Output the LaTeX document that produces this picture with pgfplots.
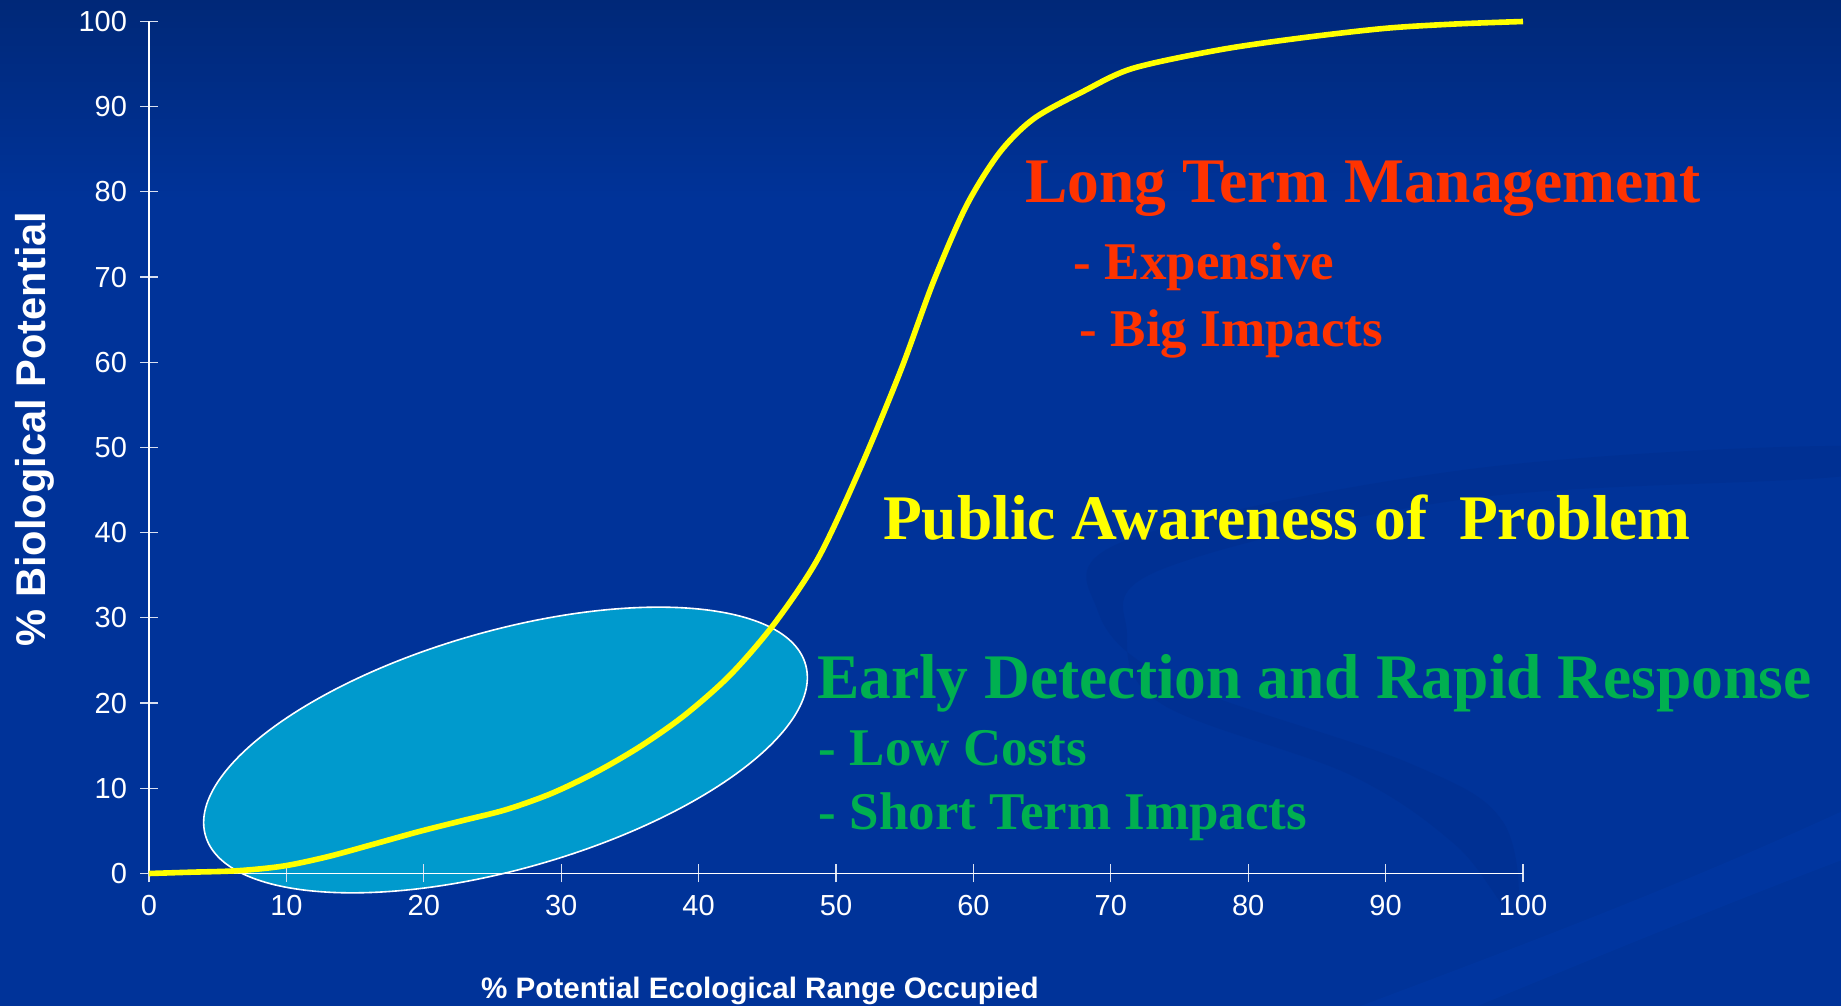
\documentclass[border=0pt]{standalone}
\usepackage{pgfplots}
\pgfplotsset{compat=1.18}
\usepackage{fontspec}
\setmainfont{Liberation Sans}
\newfontfamily\serifb{Liberation Serif}
\definecolor{bgblue}{RGB}{0,51,153}
\definecolor{bgtop}{RGB}{0,40,120}
\definecolor{bgdark}{RGB}{0,44,136}
\definecolor{bglight}{RGB}{0,58,168}
\definecolor{ellfill}{RGB}{0,154,205}
\definecolor{txtred}{RGB}{255,51,0}
\definecolor{txtgreen}{RGB}{0,176,80}
\definecolor{curveyellow}{RGB}{255,255,0}
\begin{document}
\begin{tikzpicture}
% background
\fill[bgblue] (0,0) rectangle (920.5pt,503pt);
\shade[top color=bgtop, bottom color=bgblue] (0,403pt) rectangle (920.5pt,503pt);
% faint decorative swooshes of the slide background
\begin{scope}
\clip (0,0) rectangle (920.5pt,503pt);
\fill[bgdark, opacity=0.35] plot[smooth cycle, tension=0.6] coordinates {
 (925pt,280pt) (733.8pt,268.3pt) (563.5pt,233pt) (548.8pt,197.8pt) (587pt,162.6pt)
 (704.4pt,121.5pt) (751.4pt,92.2pt) (757.2pt,45.2pt)
 (727.9pt,80.4pt) (675pt,115.6pt) (581pt,150.9pt) (563.5pt,186pt) (581pt,218.4pt)
 (733.8pt,253.6pt) (925pt,265.3pt)};
\fill[bglight, opacity=0.4] (925pt,99.2pt) .. controls (840pt,60pt) and (760pt,30pt) .. (675pt,-2pt)
  -- (733.8pt,-2pt) .. controls (800pt,25pt) and (860pt,50pt) .. (925pt,74.5pt) -- cycle;
\end{scope}
% highlighted region (annotation)
\draw[white, line width=0.8pt, fill=ellfill, shift={(252.75pt,128pt)}, rotate=15.9]
  (0,0) ellipse [x radius=156pt, y radius=59.5pt];
\begin{axis}[
  scale only axis,
  width=687pt, height=426pt,
  at={(74.5pt,66.25pt)}, anchor=south west,
  xmin=0, xmax=100, ymin=0, ymax=100,
  axis lines*=left,
  axis line style={white, line width=0.8pt},
  xtick={0,10,...,100}, ytick={0,10,...,100},
  tick align=center,
  major tick length=9pt,
  tick style={white!85!bgblue, line width=0.6pt},
  /pgf/number format/assume math mode=true,
  tick label style={font=\fontsize{14.5}{16}\selectfont, text=white},
  xticklabel style={yshift=-3pt},
  yticklabel style={xshift=-3pt},
  clip=false,
]
\addplot[curveyellow, line width=2.8pt, smooth, tension=0.5] coordinates {
(0,0) (3,0.15) (6.5,0.33) (9.8,0.88) (13,1.97) (16.3,3.42) (19.6,4.9)
(22.8,6.2) (26,7.5) (29.3,9.4) (32.6,11.95) (35.8,14.96) (39,18.6)
(42.3,23.3) (45.5,29.3) (48.7,37) (51.75,47.5) (54.7,59) (57.1,69.5)
(59.5,78.4) (61.9,84.6) (64.4,88.6) (68,91.8) (71.6,94.5) (78,96.7)
(84,98.1) (90,99.2) (95,99.7) (100,100)
};
\end{axis}
% axis titles
\node[rotate=90, anchor=base, inner sep=0pt, text=white,
  font=\fontsize{20.8}{24}\selectfont\bfseries] at (22.5pt,288.5pt) {\% Biological Potential};
\node[anchor=base, inner sep=0pt, text=white,
  font=\fontsize{14.8}{17}\selectfont\bfseries] at (380pt,3.85pt) {\% Potential Ecological Range Occupied};
% annotations
\node[anchor=base west, inner sep=0pt, text=txtred, font=\serifb\bfseries\fontsize{31.75}{36}\selectfont]
  at (512.5pt,401.6pt) {Long Term Management};
\node[anchor=base west, inner sep=0pt, text=txtred, font=\serifb\bfseries\fontsize{26.5}{30}\selectfont]
  at (536.7pt,363pt) {- Expensive};
\node[anchor=base west, inner sep=0pt, text=txtred, font=\serifb\bfseries\fontsize{26.5}{30}\selectfont]
  at (539.7pt,329.7pt) {- Big Impacts};
\node[anchor=base west, inner sep=0pt, text=curveyellow, font=\serifb\bfseries\fontsize{31.75}{36}\selectfont]
  at (441.3pt,233.3pt) {Public Awareness of\ \ Problem};
\node[anchor=base west, inner sep=0pt, text=txtgreen, font=\serifb\bfseries\fontsize{31.75}{36}\selectfont]
  at (408.3pt,153.5pt) {Early Detection and Rapid Response};
\node[anchor=base west, inner sep=0pt, text=txtgreen, font=\serifb\bfseries\fontsize{26.5}{30}\selectfont]
  at (409.2pt,120pt) {- Low Costs};
\node[anchor=base west, inner sep=0pt, text=txtgreen, font=\serifb\bfseries\fontsize{26.5}{30}\selectfont]
  at (409.2pt,88pt) {- Short Term Impacts};
\pgfresetboundingbox
\path[use as bounding box] (0,0) rectangle (920.5pt,503pt);
\end{tikzpicture}
\end{document}
